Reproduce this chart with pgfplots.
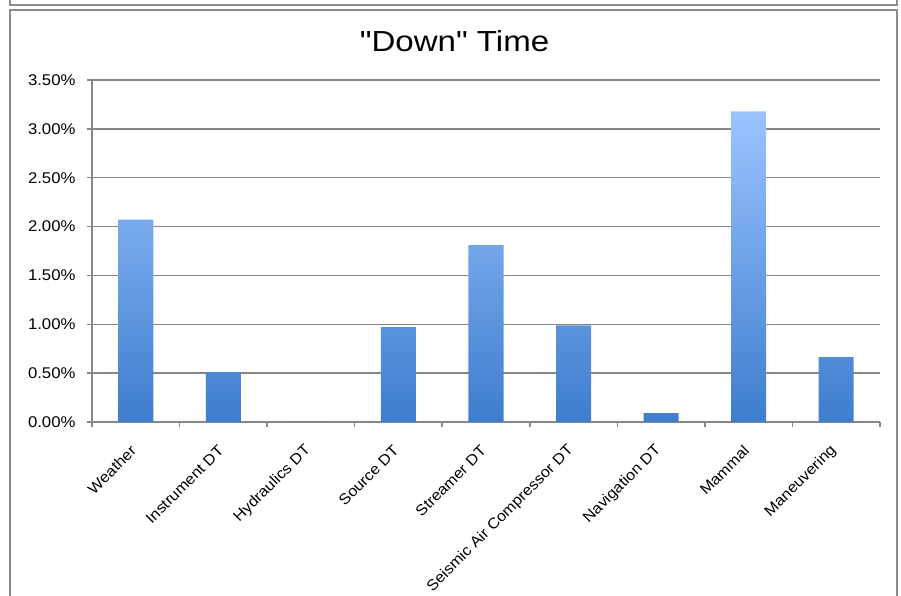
\documentclass[border=0pt]{standalone}
\usepackage{fontspec}
\setmainfont[FakeStretch=1.08]{Liberation Sans}
\newfontfamily\titlefont[FakeStretch=1.14]{Liberation Sans}
\usepackage{pgfplots}
\pgfplotsset{compat=1.18}
\definecolor{bartop}{RGB}{155,196,255}
\definecolor{barbot}{RGB}{62,125,206}
\definecolor{framegray}{RGB}{140,140,140}
\definecolor{gridgray}{RGB}{135,135,135}
\begin{document}
\begin{tikzpicture}[x=1pt,y=1pt]
\path[use as bounding box] (0,0) rectangle (901,596);
% outer frames
\draw[framegray, line width=2pt] (10,600) -- (10,591) -- (897,591) -- (897,600);
\draw[framegray, line width=2pt] (10,-5) -- (10,586) -- (897,586) -- (897,-5);
\node[anchor=base, font=\titlefont\fontsize{29}{33}\selectfont] at (454.5,544) {"Down" Time};
\begin{axis}[
  at={(92pt,174pt)}, anchor=south west,
  scale only axis, width=788pt, height=342pt,
  xmin=-0.5, xmax=8.5, ymin=0, ymax=3.5,
  ybar, bar width=0.4,
  axis x line*=bottom, axis y line*=left,
  axis line style={gridgray, line width=1.5pt},
  ymajorgrids, major grid style={gridgray, line width=1.5pt},
  ytick={0,0.5,...,3.5},
  xtick={0,...,8},
  xticklabels={Weather,Instrument DT,Hydraulics DT,Source DT,Streamer DT,Seismic Air Compressor DT,Navigation DT,Mammal,Maneuvering},
  minor xtick={-0.5,0.5,...,8.5},
  tick align=outside,
  major tick length=5pt, minor tick length=5pt,
  major x tick style={draw=none},
  minor x tick style={gridgray, line width=1.5pt},
  major y tick style={gridgray, line width=1.5pt},
  /pgf/number format/assume math mode=true,
  yticklabel={\pgfmathprintnumber[fixed,fixed zerofill,precision=2]{\tick}\%},
  yticklabel style={font=\fontsize{15.5}{17}\selectfont, xshift=-8pt},
  xticklabel style={font=\fontsize{15}{17}\selectfont, rotate=45, anchor=east, inner sep=0pt, xshift=-16.5pt, yshift=-13.3pt},
  clip=false,
]
\addplot[draw=none, top color=bartop, bottom color=barbot]
  coordinates {(0,2.07) (1,0.51) (2,0) (3,0.97) (4,1.81) (5,0.99) (6,0.09) (7,3.18) (8,0.665)};
\end{axis}
\end{tikzpicture}
\end{document}
